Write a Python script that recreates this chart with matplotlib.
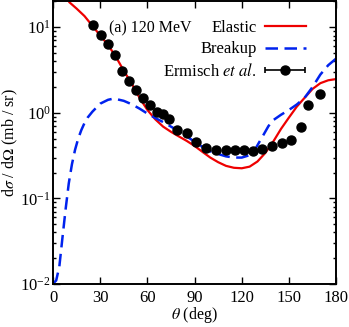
import numpy as np
import matplotlib
matplotlib.use("Agg")
import matplotlib.pyplot as plt
from matplotlib.container import ErrorbarContainer
from matplotlib.legend_handler import HandlerErrorbar

plt.rcParams['font.family'] = ['Liberation Serif', 'DejaVu Serif']
plt.rcParams['mathtext.fontset'] = 'stix'
plt.rcParams['font.size'] = 12

# elastic (red solid)
theta_el = [10.5, 15, 20, 25, 30, 35, 40, 45, 50, 55, 60, 65, 70, 75, 80, 85, 90,
            95, 100, 105, 110, 115, 120, 125, 130, 135, 140, 145, 150, 155, 160,
            165, 170, 175, 180]
sig_el = [19.5, 16.5, 13.5, 10.4, 8.0, 6.2, 4.5, 3.1, 2.2, 1.5, 1.08, 0.84, 0.69,
          0.6, 0.53, 0.47, 0.41, 0.35, 0.30, 0.265, 0.24, 0.228, 0.225, 0.235,
          0.27, 0.34, 0.46, 0.65, 0.88, 1.18, 1.5, 1.9, 2.22, 2.4, 2.48]

# breakup (blue dashed)
theta_bu = [0, 2, 4, 6, 8, 10, 12, 14, 16, 18, 20, 22, 25, 30, 35, 38, 40, 45, 50,
            55, 60, 65, 70, 75, 80, 85, 90, 95, 100, 105, 110, 115, 120, 125, 128,
            131, 134, 137, 140, 145, 150, 155, 160, 165, 170, 175, 180]
sig_bu = [0.0101, 0.011, 0.016, 0.035, 0.075, 0.15, 0.25, 0.37, 0.5, 0.63, 0.76,
          0.88, 1.03, 1.28, 1.42, 1.46, 1.45, 1.38, 1.26, 1.12, 0.98, 0.87, 0.78,
          0.69, 0.61, 0.53, 0.46, 0.40, 0.355, 0.33, 0.31, 0.30, 0.30, 0.32, 0.36,
          0.45, 0.56, 0.70, 0.82, 0.95, 1.08, 1.25, 1.5, 2.0, 2.8, 3.6, 4.3]

# Ermisch et al. data
theta_exp = [25.4, 30.3, 35.0, 39.4, 43.9, 48.3, 53.0, 57.2, 61.7, 66.0, 70.2, 74.0,
             79.1, 85.0, 91.0, 97.3, 103.5, 109.8, 115.8, 121.5, 127.4, 133.1,
             139.1, 145.5, 151.4, 157.7, 162.4, 169.8]
sig_exp = [10.5, 8.2, 6.3, 4.7, 3.08, 2.36, 1.85, 1.51, 1.22, 1.03, 0.97, 0.85,
           0.63, 0.58, 0.46, 0.39, 0.365, 0.365, 0.365, 0.365, 0.36, 0.38, 0.41,
           0.44, 0.48, 0.69, 1.24, 1.66]

fig = plt.figure(figsize=(3.49, 3.27), dpi=100)
ax = fig.add_axes([0.152, 0.1315, 0.811, 0.864])

ax.plot(theta_el, sig_el, color='#ee0000', lw=1.6, label='Elastic')
ax.plot(theta_bu, sig_bu, color='#0022ee', lw=1.8, ls=(0, (5, 2.6)), label='Breakup')
ax.errorbar(theta_exp, sig_exp, xerr=np.zeros(len(theta_exp)), fmt='o', color='k',
            ms=6.5, capsize=2.2, elinewidth=1.2, capthick=1.2, zorder=3,
            label=r'Ermisch $\it{et\ al.}$')

ax.set_yscale('log')
ax.set_xlim(0, 180)
ax.set_ylim(0.01, 20)
ax.set_xticks(np.arange(0, 181, 30))
ax.tick_params(which='both', direction='in', top=True, right=True, width=1.0)
ax.tick_params(which='major', length=5, labelsize=12)
ax.tick_params(which='minor', length=2.5)
ax.tick_params(axis='x', which='major', pad=4)
ax.tick_params(axis='y', which='major', pad=1.5)
for s in ax.spines.values():
    s.set_linewidth(1.4)

ax.set_xlabel(r'$\theta$ (deg)', labelpad=-0.5, fontsize=11.5)
ax.set_ylabel(r'd$\sigma$ / d$\Omega$ (mb / sr)', labelpad=0.5, fontsize=11.5)

ax.text(0.198, 0.905, '(a) 120 MeV', transform=ax.transAxes, va='center', ha='left',
        fontsize=11.5)

ax.legend(loc='upper right', bbox_to_anchor=(0.916, 0.957), frameon=False,
          markerfirst=False, handlelength=2.45, handletextpad=0.5, labelspacing=0.31,
          borderaxespad=0, fontsize=12,
          handler_map={ErrorbarContainer: HandlerErrorbar(xerr_size=1.2)})

fig.savefig('out.png', dpi=100)
